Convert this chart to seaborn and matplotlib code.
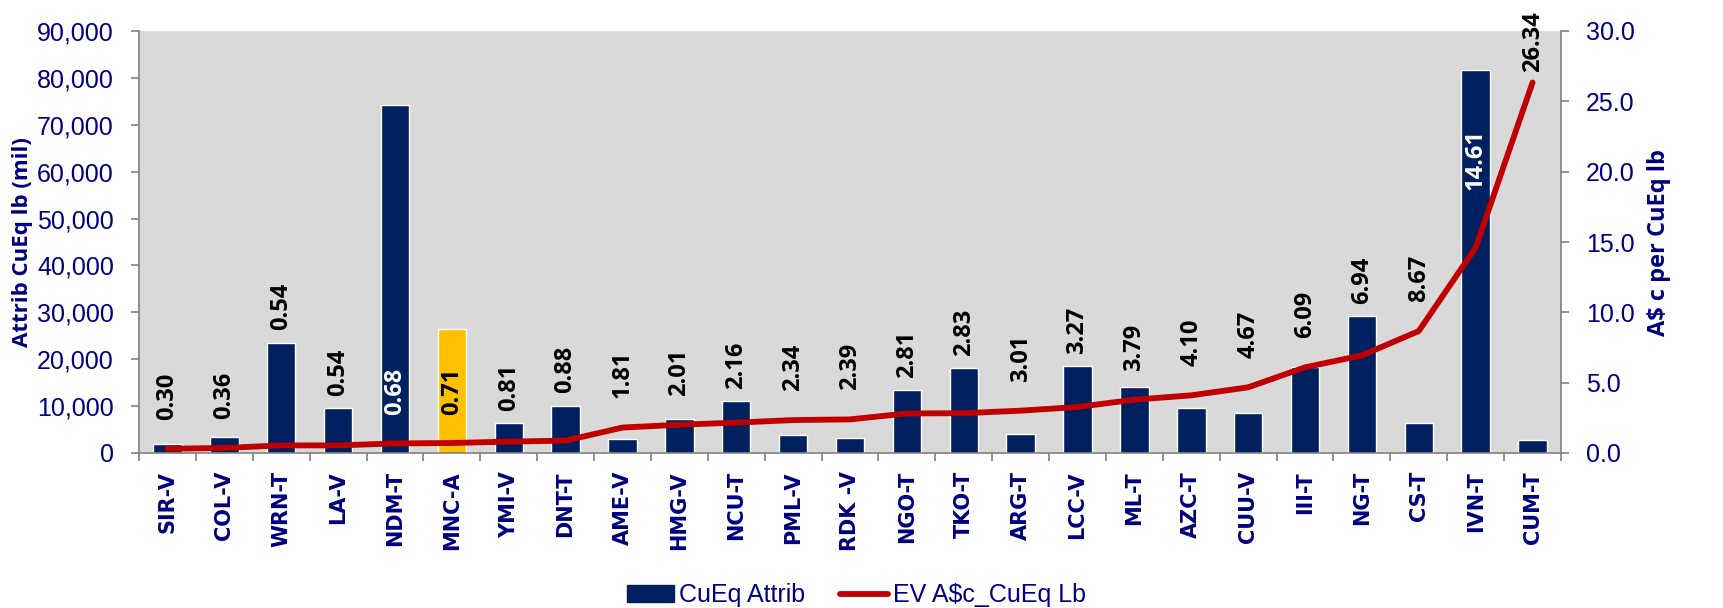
import numpy as np
import pandas as pd
import matplotlib
matplotlib.use("Agg")
import matplotlib.pyplot as plt
import seaborn as sns
from matplotlib.patches import Patch
from matplotlib.lines import Line2D
from matplotlib.ticker import FuncFormatter, FixedLocator

# ---------------- data ----------------
categories = ["SIR-V", "COL-V", "WRN-T", "LA-V", "NDM-T", "MNC-A", "YMI-V", "DNT-T",
              "AME-V", "HMG-V", "NCU-T", "PML-V", "RDK -V", "NGO-T", "TKO-T", "ARG-T",
              "LCC-V", "ML-T", "AZC-T", "CUU-V", "III-T", "NG-T", "CS-T", "IVN-T", "CUM-T"]
cueq_attrib = [2000, 3400, 23550, 9530, 74200, 26400, 6400, 10100,
               3000, 7200, 11000, 3900, 3100, 13400, 18100, 4000,
               18500, 14100, 9600, 8600, 18400, 29200, 6300, 81600, 2700]
ev_cents = [0.30, 0.36, 0.54, 0.54, 0.68, 0.71, 0.81, 0.88,
            1.81, 2.01, 2.16, 2.34, 2.39, 2.81, 2.83, 3.01,
            3.27, 3.79, 4.10, 4.67, 6.09, 6.94, 8.67, 14.61, 26.34]
left_ticks = [0, 10000, 20000, 30000, 40000, 50000, 60000, 70000, 80000, 90000]
right_ticks = [0, 5, 10, 15, 20, 25, 30]
series_names = ["CuEq Attrib", "EV A$c_CuEq Lb"]

# ---------------- styles ----------------
NAVY = "#002060"
YELLOW = "#FFC000"
RED = "#C00000"
TXT = "#000080"
highlight = "MNC-A"
label_mode = {"NDM-T": ("base", "white"), "MNC-A": ("base", "black"),
              "IVN-T": ("inner", "white")}

sns.set_theme(style="white")
plt.rcParams["font.family"] = ["Liberation Sans", "DejaVu Sans"]

fig = plt.figure(figsize=(17.23, 6.08), dpi=100)
ax = fig.add_axes([139 / 1723, 1 - 453 / 608, (1561 - 139) / 1723, (453 - 31) / 608])

df = pd.DataFrame({"cat": categories, "val": cueq_attrib, "ev": ev_cents})
palette = {c: (YELLOW if c == highlight else NAVY) for c in categories}
sns.barplot(data=df, x="cat", y="val", hue="cat", palette=palette, legend=False,
            width=0.5, saturation=1, ax=ax, zorder=2)
ax.set_facecolor("#D9D9D9")
ax.set_ylim(0, 90000)
ax.set_xlim(-0.5, len(categories) - 0.5)
ax.set_yticks(left_ticks)
ax.yaxis.set_major_formatter(FuncFormatter(lambda v, p: f"{int(v):,}"))
ax.set_xlabel("")
ax.set_ylabel("Attrib CuEq lb (mil)", fontsize=16, fontweight="bold", color=TXT,
              family=["Open Sans", "DejaVu Sans"])
ax.yaxis.set_label_coords(-0.0745, 0.5)

for s in ["top", "right"]:
    ax.spines[s].set_visible(False)
for s in ["left", "bottom"]:
    ax.spines[s].set_color("#808080")
    ax.spines[s].set_linewidth(1.2)

ax.tick_params(axis="y", which="major", direction="out", length=6, width=1.2,
               color="#808080", labelsize=18, labelcolor=TXT, pad=12, left=True)
ax.tick_params(axis="x", which="major", length=0, pad=13)
ax.xaxis.set_minor_locator(FixedLocator(np.arange(-0.5, len(categories), 1.0)))
ax.tick_params(axis="x", which="minor", direction="out", length=6, width=1.2,
               color="#808080", bottom=True)
ax.set_xticks(range(len(categories)))
ax.set_xticklabels(categories, rotation=90, fontsize=15, fontweight="bold",
                   color=TXT, family="DejaVu Sans")

ax2 = ax.twinx()
sns.lineplot(x=np.arange(len(categories)), y=df["ev"], ax=ax2, color=RED,
             linewidth=4.2, sort=False, zorder=3)
ax2.set_ylim(0, 30)
ax2.set_yticks(right_ticks)
ax2.yaxis.set_major_formatter(FuncFormatter(lambda v, p: f"{v:.1f}"))
ax2.patch.set_visible(False)
for s in ["top", "left", "bottom"]:
    ax2.spines[s].set_visible(False)
ax2.spines["right"].set_color("#808080")
ax2.spines["right"].set_linewidth(1.2)
ax2.tick_params(axis="y", direction="out", length=6, width=1.2, color="#808080",
                labelsize=18, labelcolor=TXT, pad=12, right=True)
ax2.set_ylabel("A$ c per CuEq lb", fontsize=17, fontweight="bold", color=TXT,
               family=["Open Sans", "DejaVu Sans"])
ax2.yaxis.set_label_coords(1.0605, 0.5)

# data labels (line values), placed in left-axis units
scale = 90000 / 30
cap = 81300
for i, (c, b, v) in enumerate(zip(categories, cueq_attrib, ev_cents)):
    mode, col = label_mode.get(c, ("auto", "black"))
    if mode == "base":
        y, va = 8100, "bottom"
    elif mode == "inner":
        y, va = b - 12400, "top"
    else:
        y, va = min(max(v * scale + 6200, b + 2600), cap), "bottom"
    ax.text(i, y, f"{v:.2f}", rotation=90, ha="center", va=va, color=col,
            fontsize=17, fontweight="bold", family=["Open Sans", "DejaVu Sans"],
            zorder=5, clip_on=False)

handles = [Patch(facecolor=NAVY, edgecolor=NAVY),
           Line2D([0], [0], color=RED, linewidth=4.2)]
fig.legend(handles, series_names, loc="center", bbox_to_anchor=(0.497, 0.021),
           ncol=2, frameon=False, fontsize=18, handlelength=1.9, handleheight=0.65,
           handletextpad=0.2, columnspacing=1.4, labelcolor=TXT)

fig.savefig("out.png", dpi=100)
